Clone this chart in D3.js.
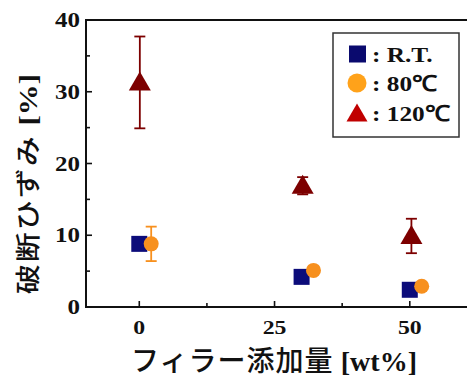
<!DOCTYPE html>
<html>
<head>
<meta charset="utf-8">
<script src="https://cdn.jsdelivr.net/npm/d3@7"></script>
<style>
  html, body { margin: 0; padding: 0; background: #fff; }
  svg { display: block; }
</style>
</head>
<body>
<svg id="chart" width="467" height="378"></svg>
<script>
// Elongation at break vs filler content, three test temperatures
const seriesNames = ["R.T.", "80℃", "120℃"];
const filler = {
  rt:   [0, 30, 50],
  c80:  [2.2, 32.2, 52.2],
  c120: [0.1, 30.2, 50.3]
};
const rtValues   = [8.8, 4.2, 2.4];
const rtErrors   = [0.5, 0.4, 0.3];
const c80Values  = [8.8, 5.1, 2.9];
const c80Errors  = [2.4, 0.4, 0.3];
const c120Values = [31.3, 16.9, 9.9];
const c120Errors = [6.4, 1.2, 2.4];
const xTicks = [0, 25, 50];
const xMinorTicks = [12.5, 37.5];
const yTicks = [0, 10, 20, 30, 40];
const yMinorTicks = [5, 15, 25, 35];

const svg = d3.select("#chart");
const plotLeft = 86, plotTop = 20, plotBottom = 307, plotRight = 470;

const x = d3.scaleLinear().domain([-9.85, 61.0]).range([plotLeft, plotLeft + 70.85 * 5.41]);
const y = d3.scaleLinear().domain([0, 40]).range([plotBottom, plotTop]);

const serif = "'Liberation Serif', 'Times New Roman', serif";
const jp = "'Noto Sans CJK JP', sans-serif";

// frame
svg.append("path")
  .attr("d", `M${plotRight},${plotTop}H${plotLeft}V${plotBottom}H${plotRight}`)
  .attr("fill", "none").attr("stroke", "#111").attr("stroke-width", 2);

// inward ticks
const tg = svg.append("g").attr("stroke", "#111").attr("stroke-width", 1.6);
yTicks.forEach(v => tg.append("line").attr("x1", plotLeft).attr("x2", plotLeft + 6).attr("y1", y(v)).attr("y2", y(v)));
yMinorTicks.forEach(v => tg.append("line").attr("x1", plotLeft).attr("x2", plotLeft + 4).attr("y1", y(v)).attr("y2", y(v)));
xTicks.forEach(v => tg.append("line").attr("x1", x(v)).attr("x2", x(v)).attr("y1", plotBottom).attr("y2", plotBottom - 6));
xMinorTicks.forEach(v => tg.append("line").attr("x1", x(v)).attr("x2", x(v)).attr("y1", plotBottom).attr("y2", plotBottom - 4));

// tick labels
yTicks.forEach(v => {
  svg.append("text")
    .attr("transform", `translate(${plotLeft - 6},${y(v) + 7}) scale(1.25,1)`)
    .attr("text-anchor", "end")
    .attr("font-family", serif).attr("font-weight", "bold").attr("font-size", 20)
    .attr("fill", "#111").text(v);
});
xTicks.forEach(v => {
  svg.append("text")
    .attr("transform", `translate(${x(v)},${334}) scale(1.25,1)`)
    .attr("text-anchor", "middle")
    .attr("font-family", serif).attr("font-weight", "bold").attr("font-size", 19)
    .attr("fill", "#111").text(v);
});

// axis titles
const xt = svg.append("text")
  .attr("x", 274).attr("y", 371)
  .attr("text-anchor", "middle").attr("fill", "#111");
xt.append("tspan").attr("font-family", jp).attr("font-weight", 500).attr("font-size", 28)
  .attr("letter-spacing", 1).text("フィラー添加量 ");
xt.append("tspan").attr("font-family", serif).attr("font-weight", "bold").attr("font-size", 28).text("[wt%]");

const yt = svg.append("text")
  .attr("transform", "translate(37,184) rotate(-90) scale(1,0.82)")
  .attr("text-anchor", "middle").attr("fill", "#111");
yt.append("tspan").attr("font-family", jp).attr("font-weight", 500).attr("font-size", 30)
  .attr("letter-spacing", 2).text("破断ひずみ ");
yt.append("tspan").attr("font-family", serif).attr("font-weight", "bold").attr("font-size", 31).text("[%]");

// marks
const colors = { rt: "#0c0c7a", c80: "#f7901e", c120: "#7d0000" };
const triPath = "M0,-11L11,8L-11,8Z";

function errorBars(xs, vals, errs, color) {
  const g = svg.append("g").attr("stroke", color).attr("stroke-width", 1.8).attr("fill", "none");
  vals.forEach((v, i) => {
    const cx = x(xs[i]);
    g.append("line").attr("x1", cx).attr("x2", cx).attr("y1", y(v - errs[i])).attr("y2", y(v + errs[i]));
    [v - errs[i], v + errs[i]].forEach(e =>
      g.append("line").attr("x1", cx - 5.5).attr("x2", cx + 5.5).attr("y1", y(e)).attr("y2", y(e)));
  });
}

errorBars(filler.rt, rtValues, rtErrors, colors.rt);
svg.append("g").selectAll("rect").data(rtValues).join("rect")
  .attr("x", (d, i) => x(filler.rt[i]) - 8).attr("y", d => y(d) - 8)
  .attr("width", 16).attr("height", 16).attr("fill", colors.rt);

errorBars(filler.c80, c80Values, c80Errors, colors.c80);
svg.append("g").selectAll("circle").data(c80Values).join("circle")
  .attr("cx", (d, i) => x(filler.c80[i])).attr("cy", d => y(d))
  .attr("r", 7.5).attr("fill", colors.c80);

errorBars(filler.c120, c120Values, c120Errors, colors.c120);
svg.append("g").selectAll("path").data(c120Values).join("path")
  .attr("d", triPath)
  .attr("transform", (d, i) => `translate(${x(filler.c120[i])},${y(d)})`)
  .attr("fill", colors.c120);

// legend
const lg = svg.append("g");
lg.append("rect").attr("x", 333).attr("y", 33).attr("width", 126).attr("height", 104)
  .attr("fill", "#fff").attr("stroke", "#333").attr("stroke-width", 1.5);
const legendColors = ["#0a0a6e", "#ffa21a", "#c00000"];
const rowY = [54, 83, 113];
lg.append("rect").attr("x", 349).attr("y", rowY[0] - 8.5).attr("width", 17).attr("height", 17).attr("fill", legendColors[0]);
lg.append("circle").attr("cx", 357).attr("cy", rowY[1]).attr("r", 9.5).attr("fill", legendColors[1]);
lg.append("path").attr("d", "M0,-9.5L10.5,8.5L-10.5,8.5Z")
  .attr("transform", `translate(357,${rowY[2]})`).attr("fill", legendColors[2]);
seriesNames.forEach((s, i) => {
  lg.append("text")
    .attr("transform", `translate(372,${rowY[i] + 8}) scale(1.15,1)`)
    .attr("font-family", serif).attr("font-weight", "bold").attr("font-size", 22)
    .attr("fill", "#111").text(": " + s);
});
</script>
</body>
</html>
